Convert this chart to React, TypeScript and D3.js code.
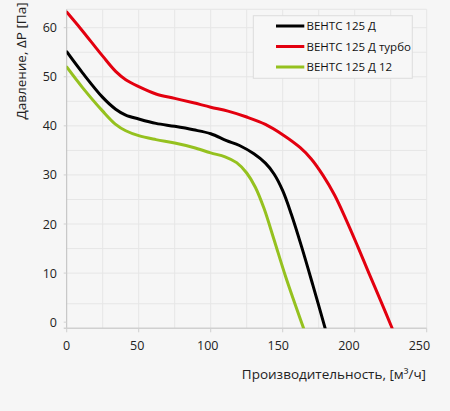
import React from "react";
import * as d3 from "d3";

const seriesNames = ["ВЕНТС 125 Д", "ВЕНТС 125 Д турбо", "ВЕНТС 125 Д 12"];
const seriesColors = ["#000000", "#e3000f", "#95c11f"];

const blackX = [0, 11, 25, 34, 41, 50, 62, 75, 88, 100, 111, 120, 130, 138, 144, 150, 156, 163, 171, 179.5];
const blackY = [55.1, 50.8, 45.8, 43.4, 42.2, 41.4, 40.5, 39.9, 39.2, 38.4, 37.0, 36.0, 34.3, 32.4, 30.2, 26.8, 22, 15.5, 7.5, -1.25];

const redX = [0, 10, 25, 34, 41, 50, 62, 75, 88, 100, 112, 125, 138, 150, 162, 170, 178, 186, 194, 202, 210, 218, 226];
const redY = [63.2, 59.7, 54.2, 51.1, 49.4, 48.0, 46.5, 45.6, 44.7, 43.8, 43, 41.8, 40.3, 38.2, 35.6, 33.2, 29.9, 25.9, 20.9, 15.5, 9.9, 4.4, -1.25];

const greenX = [0, 11, 25, 34, 41, 50, 62, 75, 88, 100, 110, 118, 125, 131, 137, 144, 152, 164.5];
const greenY = [52, 47.8, 43.0, 40.3, 39.0, 38.0, 37.2, 36.5, 35.6, 34.5, 33.7, 32.5, 30.4, 27.5, 23.2, 16.8, 9.3, -1.25];

const xTicks = [0, 50, 100, 150, 200, 250];
const yTicks = [0, 10, 20, 30, 40, 50, 60];
const xGrid = [25, 50, 75, 100, 125, 150, 175, 200, 225, 250];
const yGrid = [3.75, 10, 15, 20, 25, 30, 35, 40, 45, 50, 55, 60, 63.75];

const yTitle = "Давление, ΔP [Па]";
const xTitle = "Производительность, [м³/ч]";

const W = 450;
const H = 411;
const left = 66.7;
const right = 426.7;
const top = 9.3;
const bottom = 328.3;
const FONT = "'Open Sans', 'DejaVu Sans', sans-serif";

export default function App() {
  const x = d3.scaleLinear().domain([0, 250]).range([left, right]);
  const xLabel = d3.scaleLinear().domain([0, 250]).range([left, right - 7.3]);
  const y = d3.scaleLinear().domain([-1.25, 63.75]).range([bottom, top]);

  const series = [
    { xs: blackX, ys: blackY },
    { xs: redX, ys: redY },
    { xs: greenX, ys: greenY },
  ];
  const line = d3
    .line<[number, number]>()
    .x((d) => x(d[0]))
    .y((d) => y(d[1]))
    .curve(d3.curveCatmullRom.alpha(0.5));

  const drawOrder = [1, 0, 2];

  return (
    <div style={{ position: "absolute", left: 0, top: 0 }}>
      <svg width={W} height={H} style={{ display: "block", fontFamily: FONT }}>
        <rect x={0} y={0} width={W} height={H} fill="#f6f6f6" />
        <defs>
          <clipPath id="plotclip">
            <rect x={left} y={top} width={right - left} height={bottom - top} />
          </clipPath>
        </defs>
        {xGrid.map((v) => (
          <line key={"gx" + v} x1={x(v)} x2={x(v)} y1={top} y2={bottom} stroke="#e6e6e6" strokeWidth={1} />
        ))}
        {yGrid.map((v) => (
          <line key={"gy" + v} x1={left} x2={right} y1={y(v)} y2={y(v)} stroke="#e6e6e6" strokeWidth={1} />
        ))}
        <line x1={left} x2={left} y1={top} y2={bottom} stroke="#bdbdbd" strokeWidth={1} />
        <line x1={left - 3} x2={right} y1={bottom} y2={bottom} stroke="#d0d0d0" strokeWidth={1.5} />
        {yTicks.map((v) => (
          <line key={"ty" + v} x1={left - 3} x2={left} y1={y(v)} y2={y(v)} stroke="#d0d0d0" strokeWidth={1} />
        ))}
        {xTicks.map((v) => (
          <line key={"tx" + v} x1={x(v)} x2={x(v)} y1={bottom} y2={bottom + 4} stroke="#cfcfcf" strokeWidth={1} />
        ))}
        {yTicks.map((v) => (
          <text key={"ly" + v} x={57} y={y(v) + 4.5} textAnchor="end" fontSize={12.5} fill="#222">
            {v}
          </text>
        ))}
        {xTicks.map((v) => (
          <text key={"lx" + v} x={xLabel(v)} y={350} textAnchor="middle" fontSize={12.5} fill="#222">
            {v}
          </text>
        ))}
        <g clipPath="url(#plotclip)">
          {drawOrder.map((i) => (
            <path
              key={"s" + i}
              d={line(series[i].xs.map((xv, j) => [xv, series[i].ys[j]] as [number, number])) || ""}
              fill="none"
              stroke={seriesColors[i]}
              strokeWidth={3}
              strokeLinejoin="round"
              strokeLinecap="round"
            />
          ))}
        </g>
        <text transform="translate(26,61) rotate(-90)" textAnchor="middle" fontSize={13.5} fill="#222">
          {yTitle}
        </text>
        <text x={426} y={379} textAnchor="end" fontSize={13.5} fill="#222">
          {xTitle}
        </text>
        <rect x={253.3} y={15.7} width={159} height={62.6} fill="#f7f7f7" stroke="#dcdcdc" strokeWidth={1} />
        {seriesNames.map((name, i) => (
          <g key={"lg" + i}>
            <line x1={276} x2={304.3} y1={26 + i * 20.5} y2={26 + i * 20.5} stroke={seriesColors[i]} strokeWidth={3} />
            <text x={306.5} y={26 + i * 20.5 + 4} fontSize={11.5} fill="#111">
              {name}
            </text>
          </g>
        ))}
      </svg>
    </div>
  );
}
